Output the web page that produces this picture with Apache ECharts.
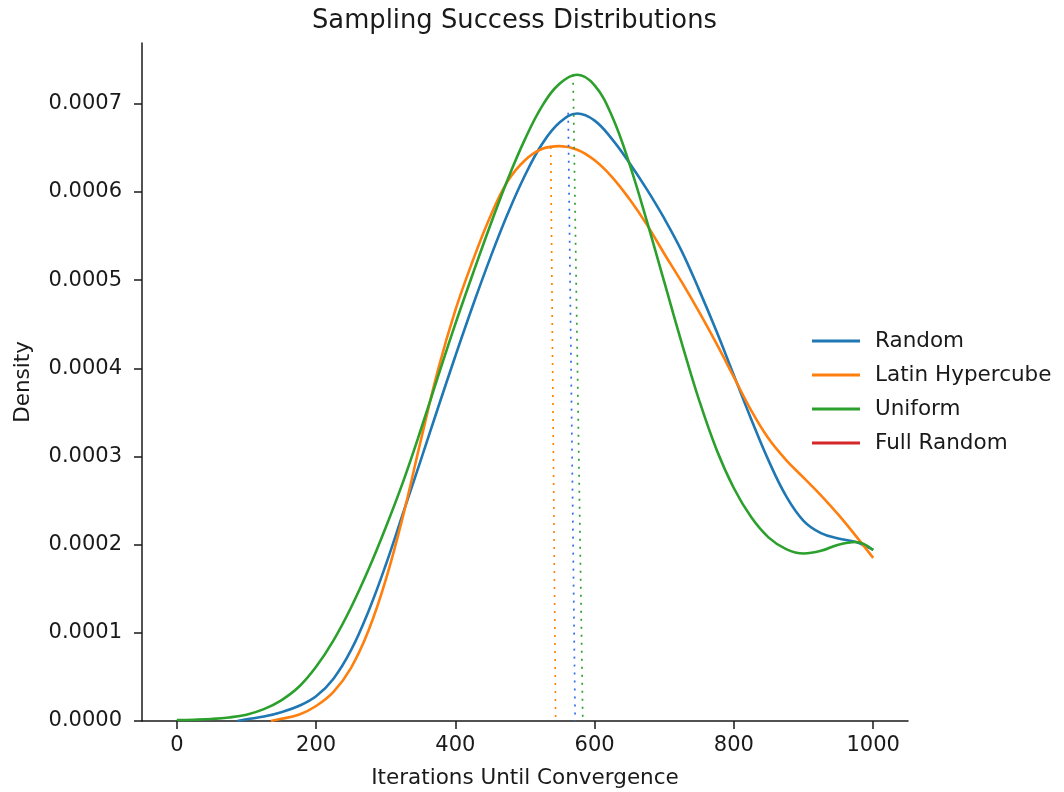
<!DOCTYPE html>
<html>
<head>
<meta charset="utf-8">
<title>Sampling Success Distributions</title>
<script src="https://cdn.jsdelivr.net/npm/echarts@6/dist/echarts.min.js"></script>
<style>
  html, body { margin: 0; padding: 0; background: #fff; }
  #chart { width: 1064px; height: 792px; }
</style>
</head>
<body>
<div id="chart"></div>
<script>
// Density estimates of iterations needed to converge, per sampling strategy
const seriesNames = ['Random', 'Latin Hypercube', 'Uniform', 'Full Random'];
const seriesColors = ['#1f77b4', '#ff7f0e', '#2ca02c', '#d62728'];
const guideColors = ['#2b6cf0', '#ff7f0e', '#2ca02c'];

const xTicks = [0, 200, 400, 600, 800, 1000];
const yTicks = [0, 0.0001, 0.0002, 0.0003, 0.0004, 0.0005, 0.0006, 0.0007];

// Random
const randomX = [87, 100, 125, 150, 175, 200, 225, 250, 275, 300, 325, 350, 375, 400, 425, 450, 475, 500,
  525, 550, 575, 600, 625, 650, 675, 700, 725, 750, 775, 800, 825, 850, 875, 900, 925, 950, 975, 1000];
const randomY = [0.0000000, 0.0000020, 0.0000050, 0.0000100, 0.0000170, 0.0000280, 0.0000480, 0.0000800,
  0.0001240, 0.0001770, 0.0002360, 0.0002950, 0.0003550, 0.0004140, 0.0004710, 0.0005250, 0.0005750,
  0.0006190, 0.0006550, 0.0006790, 0.0006890, 0.0006810, 0.0006600, 0.0006330, 0.0006030, 0.0005700,
  0.0005330, 0.0004890, 0.0004420, 0.0003920, 0.0003420, 0.0002950, 0.0002550, 0.0002270, 0.0002130,
  0.0002070, 0.0002030, 0.0001940];

// Latin Hypercube
const lhsX = [135, 150, 175, 200, 225, 250, 275, 300, 325, 350, 375, 400, 425, 450, 475, 500,
  525, 550, 575, 600, 625, 650, 675, 700, 725, 750, 775, 800, 825, 850, 875, 900, 925, 950, 975, 1000];
const lhsY = [0.0000000, 0.0000025, 0.0000070, 0.0000170, 0.0000330, 0.0000600, 0.0001020, 0.0001600,
  0.0002330, 0.0003170, 0.0003980, 0.0004660, 0.0005220, 0.0005720, 0.0006120, 0.0006360, 0.0006490,
  0.0006520, 0.0006480, 0.0006360, 0.0006170, 0.0005920, 0.0005630, 0.0005300, 0.0004980, 0.0004640,
  0.0004280, 0.0003900, 0.0003520, 0.0003200, 0.0002960, 0.0002760, 0.0002560, 0.0002340, 0.0002100,
  0.0001850];

// Uniform
const uniformX = [0, 25, 50, 75, 100, 125, 150, 175, 200, 225, 250, 275, 300, 325, 350, 375, 400, 425, 450,
  475, 500, 525, 550, 575, 600, 625, 650, 675, 700, 725, 750, 775, 800, 825, 850, 875, 900, 925, 950, 975, 1000];
const uniformY = [0.0000011, 0.0000015, 0.0000023, 0.0000040, 0.0000072, 0.0000135, 0.0000235, 0.0000385,
  0.0000615, 0.0000915, 0.0001285, 0.0001715, 0.0002195, 0.0002715, 0.0003295, 0.0003905, 0.0004505,
  0.0005070, 0.0005620, 0.0006140, 0.0006600, 0.0006980, 0.0007230, 0.0007330, 0.0007210, 0.0006860,
  0.0006320, 0.0005670, 0.0004980, 0.0004290, 0.0003640, 0.0003080, 0.0002640, 0.0002310, 0.0002080,
  0.0001950, 0.0001900, 0.0001930, 0.0002000, 0.0002030, 0.0001940];

// Dotted guide lines: [x at curve, density at curve, x at baseline]
const guideTopX = [562, 537, 569];
const guideTopY = [0.000690, 0.000651, 0.000733];
const guideBaseX = [572, 544, 583];

const font = 'DejaVu Sans';
const ink = '#1a1a1a';

function pairs(xs, ys) {
  return xs.map((x, i) => [x, ys[i]]);
}

const curveData = [
  pairs(randomX, randomY),
  pairs(lhsX, lhsY),
  pairs(uniformX, uniformY),
  []
];

const series = seriesNames.map((name, i) => ({
  name: name,
  type: 'line',
  data: curveData[i],
  smooth: 0.4,
  symbol: 'none',
  lineStyle: { color: seriesColors[i], width: 2.6 },
  itemStyle: { color: seriesColors[i] },
  z: 2
}));

guideTopX.forEach((x, i) => {
  series.push({
    name: 'guide-' + i,
    type: 'line',
    data: [[x, guideTopY[i]], [guideBaseX[i], 0]],
    symbol: 'none',
    silent: true,
    lineStyle: { color: guideColors[i], width: 1.7, type: [2, 6] },
    z: 3
  });
});

const chart = echarts.init(document.getElementById('chart'), null, { renderer: 'canvas' });
chart.setOption({
  animation: false,
  backgroundColor: '#ffffff',
  title: {
    text: 'Sampling Success Distributions',
    left: 307,
    top: 3,
    textStyle: { fontFamily: font, fontSize: 25.8, fontWeight: 'normal', color: ink }
  },
  legend: {
    data: seriesNames,
    orient: 'vertical',
    left: 807,
    top: 325,
    icon: 'rect',
    itemWidth: 48,
    itemHeight: 3,
    itemGap: 12,
    textStyle: { fontFamily: font, fontSize: 21.5, color: ink, lineHeight: 22, padding: [0, 0, 0, 10] }
  },
  grid: { left: 142, right: 156, top: 43, bottom: 71, containLabel: false, outerBoundsMode: 'none' },
  xAxis: {
    type: 'value',
    min: -50,
    max: 1050,
    name: 'Iterations Until Convergence',
    nameLocation: 'middle',
    nameGap: 46,
    nameTextStyle: { fontFamily: font, fontSize: 21.5, color: ink },
    axisLine: { show: true, onZero: false, lineStyle: { color: ink, width: 1.5 } },
    axisTick: { show: true, length: 8, lineStyle: { color: ink, width: 1.5 }, customValues: xTicks },
    axisLabel: {
      fontFamily: font, fontSize: 21, color: ink, margin: 14, customValues: xTicks,
      formatter: v => String(v)
    },
    splitLine: { show: false }
  },
  yAxis: {
    type: 'value',
    min: 0,
    max: 0.000769,
    name: 'Density',
    nameLocation: 'middle',
    nameGap: 108,
    nameRotate: 90,
    nameTextStyle: { fontFamily: font, fontSize: 21.5, color: ink },
    axisLine: { show: true, onZero: false, lineStyle: { color: ink, width: 1.5 } },
    axisTick: { show: true, length: 8, lineStyle: { color: ink, width: 1.5 }, customValues: yTicks },
    axisLabel: {
      fontFamily: font, fontSize: 21, color: ink, margin: 20, customValues: yTicks,
      formatter: v => v.toFixed(4)
    },
    splitLine: { show: false }
  },
  series: series
});
</script>
</body>
</html>
